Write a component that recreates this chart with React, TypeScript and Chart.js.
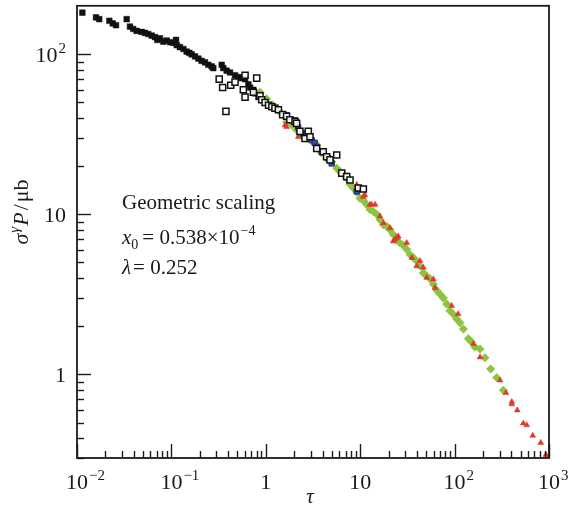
import React, { useEffect, useRef } from "react";
import { Chart, registerables } from "chart.js";
Chart.register(...registerables);

// ---- data ----
const filledX = [0.0114, 0.0159, 0.0172, 0.022, 0.0239, 0.0259, 0.0336, 0.0364, 0.0394, 0.0428, 0.0484, 0.0525, 0.0569, 0.0618, 0.067, 0.071, 0.0757, 0.082, 0.0891, 0.0967, 0.105, 0.112, 0.114, 0.123, 0.134, 0.145, 0.155, 0.164, 0.178, 0.193, 0.209, 0.227, 0.246, 0.267, 0.278, 0.341, 0.355, 0.385, 0.418, 0.472, 0.512, 0.556, 0.603, 0.654, 0.681, 0.738, 0.769, 0.834];
const filledY = [182, 170, 166, 162, 156, 152, 166, 149, 144, 140, 138, 136, 134, 131, 128, 123, 126, 120, 122, 119, 118, 123, 114, 111, 108, 104, 102, 100, 97, 94, 91, 89, 86, 84, 82, 86, 82, 79, 77, 74, 72, 71, 70, 65, 62, 60, 57, 54];

const openX = [0.321, 0.349, 0.378, 0.425, 0.472, 0.578, 0.603, 0.603, 0.738, 0.801, 0.869, 0.906, 0.982, 1.07, 1.16, 1.25, 1.36, 1.51, 1.66, 1.8, 2.04, 2.12, 2.3, 2.6, 2.82, 2.94, 3.46, 4.06, 4.41, 4.79, 5.64, 6.37, 7.19, 7.8, 9.55, 10.8];
const openY = [70, 62, 44, 64, 67, 60, 74, 54, 58, 71, 55, 52, 50, 48, 47, 46, 45, 42, 41, 39, 38, 37, 33, 29.8, 33, 30.5, 25.8, 24.6, 22.9, 21.9, 23.5, 18.1, 17.2, 16.4, 14.6, 14.4];

const blueX = [1.66, 2.04, 2.2, 2.49, 2.71, 3.06, 3.3, 3.46, 3.91, 4.59, 4.99, 9.19];
const blueY = [41.6, 38.7, 35, 32.0, 30.5, 29.1, 28, 26.4, 24.6, 22.4, 20.8, 13.9];

const greenX = [0.87, 1.02, 1.2, 1.41, 1.66, 1.9, 2.12, 2.4, 2.71, 3.1, 3.46, 3.9, 4.41, 5.0, 5.64, 6.11, 6.6, 7.19, 7.8, 8.46, 9.2, 9.95, 10.8, 11.7, 12.7, 13.8, 15, 16.2, 17.6, 19.1, 20.7, 22.4, 24.3, 26.4, 28.6, 31.1, 33.7, 36.6, 39.7, 43.1, 46.7, 50.6, 55, 59.6, 64.6, 70, 76, 82.4, 89, 96.9, 105, 114, 124, 140, 150, 164, 186, 210, 241, 279, 328];
const greenY = [58, 52.7, 48, 43.7, 37.8, 36, 33.6, 31, 29.8, 28.6, 27.1, 24.2, 22.4, 21.3, 19.4, 18.5, 17.9, 16.8, 15.4, 14.6, 13.8, 12.6, 12.2, 11.5, 10.7, 10.4, 10.0, 9.27, 8.6, 8.41, 8.0, 7.48, 6.9, 6.63, 6.4, 6.04, 5.6, 5.35, 5.1, 4.75, 4.3, 4.12, 3.95, 3.66, 3.35, 3.17, 3.0, 2.75, 2.5, 2.38, 2.22, 2.1, 1.92, 1.67, 1.6, 1.48, 1.44, 1.27, 1.08, 0.954, 0.796];

const redX = [1.6, 1.66, 2.21, 9.2, 10.8, 11.2, 12.7, 13.2, 14.4, 16.2, 17.6, 20.7, 22.4, 23.4, 24.4, 25.3, 31.1, 35.2, 39.6, 43.0, 46.6, 50.6, 59.5, 62, 93, 109, 158, 186, 303, 350, 403, 403, 461, 534, 581, 672, 817, 929, 1000];
const redY = [36, 35.2, 30.5, 15.3, 12.9, 13.2, 11.5, 11.5, 11.5, 9.72, 8.83, 8.22, 6.79, 6.97, 7.13, 7.29, 6.63, 5.35, 4.75, 5.11, 4.65, 4.02, 3.93, 3.48, 2.68, 2.38, 1.55, 1.28, 0.918, 0.766, 0.673, 0.651, 0.597, 0.494, 0.482, 0.414, 0.374, 0.314, 0.3];

const xMajorTicks = [0.01, 0.1, 1, 10, 100, 1000];
const xTickBase = ["10", "10", "1", "10", "10", "10"];
const xTickSup = ["\u22122", "\u22121", "", "", "2", "3"];
const yMajorTicks = [1, 10, 100];
const yTickBase = ["1", "10", "10"];
const yTickSup = ["", "", "2"];

const X_MIN = 0.01, X_MAX = 1000, Y_MIN = 0.3, Y_MAX = 201;

function pts(xs: number[], ys: number[]) {
  return xs.map((x, i) => ({ x, y: ys[i] }));
}

const SERIF = '"Liberation Serif", "Times New Roman", serif';

const decor = {
  id: "decor",
  afterDatasetsDraw(chart: any) {
    const { ctx, chartArea: a, scales } = chart;
    const xs = scales.x, ys = scales.y;
    ctx.save();
    ctx.strokeStyle = "#1a1a1a";
    ctx.lineWidth = 1.4;
    const line = (x1: number, y1: number, x2: number, y2: number) => {
      ctx.beginPath(); ctx.moveTo(x1, y1); ctx.lineTo(x2, y2); ctx.stroke();
    };
    // x ticks (inward, bottom)
    for (let d = -2; d <= 3; d++) {
      for (let k = 1; k <= 9; k++) {
        const v = k * Math.pow(10, d);
        if (v < X_MIN * 0.999 || v > X_MAX * 1.001) continue;
        const px = Math.round(xs.getPixelForValue(v)) + 0.5;
        line(px, a.bottom, px, a.bottom - (k === 1 ? 14 : 7));
      }
    }
    // y ticks (inward, left)
    for (let d = -1; d <= 2; d++) {
      for (let k = 1; k <= 9; k++) {
        const v = k * Math.pow(10, d);
        if (v < Y_MIN * 0.999 || v > Y_MAX * 0.99) continue;
        const py = Math.round(ys.getPixelForValue(v)) + 0.5;
        line(a.left, py, a.left + (k === 1 ? 14 : 7), py);
      }
    }
    // frame
    ctx.lineWidth = 1.8;
    ctx.strokeRect(a.left, a.top, a.right - a.left, a.bottom - a.top);

    ctx.fillStyle = "#1a1a1a";
    ctx.textBaseline = "alphabetic";
    ctx.textAlign = "left";
    const baseFont = `22px ${SERIF}`;
    const supFont = `15px ${SERIF}`;
    // x tick labels
    xMajorTicks.forEach((v, i) => {
      const px = xs.getPixelForValue(v);
      ctx.font = baseFont;
      const wb = ctx.measureText(xTickBase[i]).width;
      const bx = px - wb / 2;
      const by = 489;
      ctx.fillText(xTickBase[i], bx, by);
      if (xTickSup[i]) {
        ctx.font = supFont;
        ctx.fillText(xTickSup[i], bx + wb + 1, by - 9);
      }
    });
    // y tick labels
    yMajorTicks.forEach((v, i) => {
      const py = ys.getPixelForValue(v);
      ctx.font = baseFont;
      const wb = ctx.measureText(yTickBase[i]).width;
      ctx.font = supFont;
      const ws = yTickSup[i] ? ctx.measureText(yTickSup[i]).width + 1 : 0;
      const right = 66;
      const bx = right - wb - ws;
      const by = py + 8;
      ctx.font = baseFont;
      ctx.fillText(yTickBase[i], bx, by);
      if (yTickSup[i]) {
        ctx.font = supFont;
        ctx.fillText(yTickSup[i], bx + wb + 1, by - 9);
      }
    });
    // x title
    ctx.font = `italic 21px ${SERIF}`;
    ctx.textAlign = "center";
    ctx.fillText("\u03C4", 310, 503);
    ctx.textAlign = "left";
    // y title (rotated)
    ctx.save();
    ctx.translate(28, 212);
    ctx.rotate(-Math.PI / 2);
    const parts: [string, string, number, number][] = [
      ["\u03C3", `italic 22px ${SERIF}`, 0, 1],
      ["\u03B3", `italic 15px ${SERIF}`, -9, 1],
      ["P", `italic 22px ${SERIF}`, 0, 2],
      ["/", `22px ${SERIF}`, 0, 2],
      ["\u03BCb", `22px ${SERIF}`, 0, 0],
    ];
    let tw = 0;
    parts.forEach(([t, f, , g]) => { ctx.font = f; tw += ctx.measureText(t).width + g; });
    let cx = -tw / 2;
    parts.forEach(([t, f, dy, g]) => {
      ctx.font = f;
      ctx.fillText(t, cx, dy);
      cx += ctx.measureText(t).width + g;
    });
    ctx.restore();

    // annotation
    const annFont = `21px ${SERIF}`;
    const annIt = `italic 21px ${SERIF}`;
    const small = `14px ${SERIF}`;
    ctx.font = annFont;
    ctx.fillText("Geometric scaling", 122, 209);
    let x = 122;
    ctx.font = annIt;
    ctx.fillText("x", x, 244);
    x += ctx.measureText("x").width;
    ctx.font = small;
    ctx.fillText("0", x, 249);
    x += ctx.measureText("0").width + 4;
    ctx.font = annFont;
    const t2 = "= 0.538\u00D710";
    ctx.fillText(t2, x, 244);
    x += ctx.measureText(t2).width + 1;
    ctx.font = small;
    ctx.fillText("\u22124", x, 235);
    x = 122;
    ctx.font = annIt;
    ctx.fillText("\u03BB", x, 274);
    x += ctx.measureText("\u03BB").width + 2;
    ctx.font = annFont;
    ctx.fillText("= 0.252", x, 274);
    ctx.restore();
  },
};

export default function App() {
  const ref = useRef<HTMLCanvasElement | null>(null);
  useEffect(() => {
    if (!ref.current) return;
    const chart = new Chart(ref.current, {
      type: "scatter",
      data: {
        datasets: [
          {
            label: "open",
            data: pts(openX, openY),
            pointStyle: "rect",
            pointRadius: 4.3,
            backgroundColor: "rgba(255,255,255,0.9)",
            borderColor: "#111",
            borderWidth: 1.5,
          },
          {
            label: "blue",
            data: pts(blueX, blueY),
            pointStyle: "rect",
            pointRadius: 3.8,
            backgroundColor: "#3a4a9a",
            borderColor: "#27336f",
            borderWidth: 1,
          },
          {
            label: "red",
            data: pts(redX, redY),
            pointStyle: "triangle",
            pointRadius: 3.4,
            backgroundColor: "#e2392c",
            borderColor: "#d8352a",
            borderWidth: 0.5,
          },
          {
            label: "green",
            data: pts(greenX, greenY),
            pointStyle: "rectRot",
            pointRadius: 4.2,
            backgroundColor: "#8cc43e",
            borderColor: "#86bd3a",
            borderWidth: 0.5,
          },
          {
            label: "filled",
            data: pts(filledX, filledY),
            pointStyle: "rect",
            pointRadius: 4,
            backgroundColor: "#111",
            borderColor: "#111",
            borderWidth: 0.5,
          },
        ],
      },
      options: {
        animation: false,
        responsive: false,
        devicePixelRatio: 1,
        layout: { padding: { left: 77, right: 19, top: 3, bottom: 47 } },
        plugins: { legend: { display: false }, tooltip: { enabled: false } },
        scales: {
          x: { type: "logarithmic", min: X_MIN, max: X_MAX, display: false },
          y: { type: "logarithmic", min: Y_MIN, max: Y_MAX, display: false },
        },
      },
      plugins: [decor],
    } as any);
    return () => chart.destroy();
  }, []);
  return (
    <div style={{ position: "absolute", left: 0, top: 0, width: 568, height: 505, background: "#fff" }}>
      <canvas ref={ref} width={568} height={505} style={{ display: "block" }} />
    </div>
  );
}
